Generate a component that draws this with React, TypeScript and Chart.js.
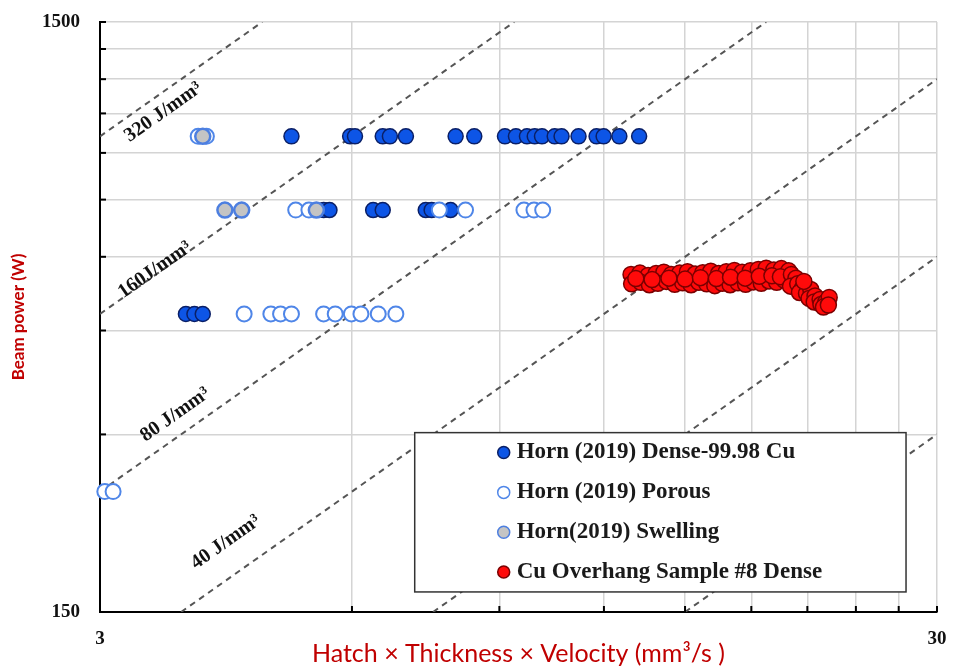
import React, { useEffect, useRef } from "react";
import { Chart, registerables } from "chart.js";

Chart.register(...registerables);

// Axis tick values (log axes with 3-step minor lines)
const xTickValues = [3, 6, 9, 12, 15, 18, 21, 24, 27, 30];
const yTickValues = [150, 300, 450, 600, 750, 900, 1050, 1200, 1350, 1500];
const xLabelled = [3, 30];
const yLabelled = [150, 1500];

// Constant energy-density lines (J/mm³): P = E · (h·t·v)
const energyLevels = [320, 160, 80, 40, 20, 10];
const energyLabels = ["320 J/mm³", "160J/mm³", "80 J/mm³", "40 J/mm³"];
const energyLabelX = [3.57, 3.49, 3.69, 4.24];
const energyLabelP = [1055, 570, 324, 197];

// Horn (2019) – dense builds, 99.98 % Cu
const denseX = [
  5.08, 5.97, 6.05, 6.53, 6.66, 6.96, 7.98, 8.4, 9.14, 9.42, 9.71, 9.92, 10.12, 10.48, 10.68, 11.19, 11.76, 11.99, 12.52, 13.22,
  5.55, 5.64, 6.36, 6.53, 7.35, 7.47, 7.87,
  3.8, 3.89, 3.98,
];
const denseP = [
  960, 960, 960, 960, 960, 960, 960, 960, 960, 960, 960, 960, 960, 960, 960, 960, 960, 960, 960, 960,
  720, 720, 720, 720, 720, 720, 720,
  480, 480, 480,
];

// Horn (2019) – porous builds
const porousX = [
  3.93, 4.02,
  5.14, 5.33, 7.63, 8.2, 9.63, 9.9, 10.14,
  4.46, 4.8, 4.93, 5.08, 5.55, 5.73, 5.99, 6.15, 6.45, 6.77,
  3.04, 3.11,
];
const porousP = [
  960, 960,
  720, 720, 720, 720, 720, 720, 720,
  480, 480, 480, 480, 480, 480, 480, 480, 480, 480,
  240, 240,
];

// Horn (2019) – swelling
const swellX = [3.98, 4.23, 4.43, 5.44];
const swellP = [960, 720, 720, 720];

// Cu overhang sample #8 – dense
const overhangX = [
  12.93, 13.25, 13.55, 13.85, 14.15, 14.45, 14.78, 15.1, 15.42, 15.75, 16.1, 16.45, 16.8, 17.18, 17.55, 17.95, 18.35, 18.75, 19.15, 19.55, 19.95,
  12.95, 13.28, 13.6, 13.92, 14.25, 14.58, 14.9, 15.25, 15.58, 15.92, 16.28, 16.62, 16.98, 17.35, 17.72, 18.1, 18.5, 18.9, 19.3, 19.7,
  13.1, 13.7, 14.35, 15.0, 15.65, 16.35, 17.0, 17.7, 18.4, 19.05, 19.5,
  20.1, 20.35, 20.05, 20.45, 20.7, 20.55, 20.95, 21.2, 21.1, 21.45, 21.4, 21.75, 21.8, 22.1, 22.3, 21.95, 22.25, 20.8,
];
const overhangP = [
  560, 563, 558, 562, 565, 560, 563, 566, 561, 564, 567, 562, 566, 569, 565, 568, 571, 574, 570, 573, 568,
  540, 543, 538, 541, 545, 539, 542, 538, 543, 540, 536, 541, 538, 542, 539, 544, 541, 546, 543, 548,
  551, 549, 552, 550, 553, 551, 554, 552, 556, 557, 555,
  560, 552, 535, 540, 530, 522, 520, 528, 510, 515, 503, 508, 498, 503, 512, 493, 497, 545,
];

const seriesLabels = [
  "Horn (2019) Dense-99.98 Cu",
  "Horn (2019) Porous",
  "Horn(2019) Swelling",
  "Cu Overhang Sample #8 Dense",
];

const zip = (xs: number[], ys: number[]) => xs.map((x, i) => ({ x, y: ys[i] }));

const SERIF = "'Liberation Serif', 'Times New Roman', serif";
const TITLE_FONT = "Lato, 'Open Sans', sans-serif";
const TITLE_RED = "#c00000";

// Inside tick marks, energy-line captions and the boxed legend
const overlayPlugin = {
  id: "overlay",
  afterDatasetsDraw(chart: any) {
    const { ctx, chartArea, scales } = chart;
    const xs = scales.x;
    const ys = scales.y;
    ctx.save();
    // short inward ticks
    ctx.strokeStyle = "#000";
    ctx.lineWidth = 2;
    xTickValues.forEach((v) => {
      if (v === xTickValues[0]) return;
      const px = xs.getPixelForValue(v);
      ctx.beginPath();
      ctx.moveTo(px, chartArea.bottom);
      ctx.lineTo(px, chartArea.bottom - 6);
      ctx.stroke();
    });
    yTickValues.forEach((v) => {
      if (v === yTickValues[0]) return;
      const py = ys.getPixelForValue(v);
      ctx.beginPath();
      ctx.moveTo(chartArea.left, py);
      ctx.lineTo(chartArea.left + 6, py);
      ctx.stroke();
    });

    // captions along the energy lines
    ctx.fillStyle = "#111";
    ctx.font = `bold 20px ${SERIF}`;
    ctx.textAlign = "center";
    ctx.textBaseline = "middle";
    energyLabels.forEach((txt, i) => {
      const E = energyLevels[i];
      const ax = xs.getPixelForValue(3);
      const ay = ys.getPixelForValue(3 * E);
      const bx = xs.getPixelForValue(6);
      const by = ys.getPixelForValue(6 * E);
      const ang = Math.atan2(by - ay, bx - ax);
      const cx = xs.getPixelForValue(energyLabelX[i]);
      const cy = ys.getPixelForValue(energyLabelP[i]);
      ctx.save();
      ctx.translate(cx, cy);
      ctx.rotate(ang);
      ctx.fillText(txt, 0, 0);
      ctx.restore();
    });
    ctx.restore();
  },
  afterDraw(chart: any) {
    const { ctx, chartArea } = chart;
    const w = chartArea.right - chartArea.left;
    const h = chartArea.bottom - chartArea.top;
    const left = chartArea.left + w * 0.376;
    const right = chartArea.left + w * 0.963;
    const top = chartArea.top + h * 0.696;
    const bottom = chartArea.top + h * 0.966;
    ctx.save();
    ctx.fillStyle = "#fff";
    ctx.fillRect(left, top, right - left, bottom - top);
    ctx.strokeStyle = "#333";
    ctx.lineWidth = 1.5;
    ctx.strokeRect(left, top, right - left, bottom - top);
    const items = chart.data.datasets.filter((d: any) => d.inLegend);
    const rowH = (bottom - top) / items.length;
    ctx.font = `bold 23px ${SERIF}`;
    ctx.textAlign = "left";
    ctx.textBaseline = "middle";
    items.forEach((d: any, i: number) => {
      const cy = top + rowH * (i + 0.5);
      const mx = left + 89;
      ctx.beginPath();
      ctx.arc(mx, cy, 6, 0, Math.PI * 2);
      ctx.fillStyle = d.backgroundColor;
      ctx.fill();
      ctx.lineWidth = 1.5;
      ctx.strokeStyle = d.borderColor;
      ctx.stroke();
      ctx.fillStyle = "#1a1a1a";
      ctx.fillText(d.label, mx + 13, cy);
    });
    ctx.restore();
  },
};

export default function App() {
  const canvasRef = useRef<HTMLCanvasElement>(null);

  useEffect(() => {
    if (!canvasRef.current) return;

    const energyLines = energyLevels.map((E) => {
      const x0 = Math.max(3, 150 / E);
      const x1 = Math.min(30, 1500 / E);
      return {
        type: "line" as const,
        label: `${E} J/mm³`,
        data: [
          { x: x0, y: E * x0 },
          { x: x1, y: E * x1 },
        ],
        showLine: true,
        borderColor: "#555",
        borderWidth: 2,
        borderDash: [6, 5],
        pointRadius: 0,
        fill: false,
        order: 10,
        inLegend: false,
      };
    });

    const chart = new Chart(canvasRef.current, {
      type: "scatter",
      data: {
        datasets: [
          {
            label: seriesLabels[0],
            data: zip(denseX, denseP),
            backgroundColor: "#0d55e6",
            borderColor: "#0a1f66",
            borderWidth: 1.5,
            pointRadius: 7.5,
            order: 3,
            clip: false,
            inLegend: true,
          },
          {
            label: seriesLabels[1],
            data: zip(porousX, porousP),
            backgroundColor: "#ffffff",
            borderColor: "#4f86e8",
            borderWidth: 2,
            pointRadius: 7.5,
            order: 2,
            clip: false,
            inLegend: true,
          },
          {
            label: seriesLabels[2],
            data: zip(swellX, swellP),
            backgroundColor: "#c4c4c4",
            borderColor: "#4d7fe0",
            borderWidth: 2.5,
            pointRadius: 7.5,
            order: 1,
            clip: false,
            inLegend: true,
          },
          {
            label: seriesLabels[3],
            data: zip(overhangX, overhangP),
            backgroundColor: "#ff0a0a",
            borderColor: "#7a0000",
            borderWidth: 1.5,
            pointRadius: 8,
            order: 0,
            clip: false,
            inLegend: true,
          },
          ...energyLines,
        ] as any,
      },
      options: {
        animation: false,
        responsive: false,
        maintainAspectRatio: false,
        layout: { padding: { left: 0, right: 25, top: 22, bottom: 0 } },
        plugins: {
          legend: { display: false },
          tooltip: { enabled: false },
        },
        scales: {
          x: {
            type: "logarithmic",
            min: 3,
            max: 30,
            afterBuildTicks: (s: any) => {
              s.ticks = xTickValues.map((v) => ({ value: v }));
            },
            afterFit: (s: any) => {
              s.height = 54;
              s.paddingLeft = 0;
              s.paddingRight = 0;
            },
            ticks: {
              autoSkip: false,
              maxRotation: 0,
              padding: 16,
              color: "#111",
              font: { family: SERIF, size: 19, weight: "bold" },
              callback: (v: any) => (xLabelled.includes(Number(v)) ? String(v) : ""),
            },
            grid: { color: "#d4d4d4", lineWidth: 1.5, drawTicks: false },
            border: { color: "#000", width: 2 },
            title: {
              display: true,
              text: "Hatch × Thickness × Velocity (mm³/s )",
              color: TITLE_RED,
              font: { family: TITLE_FONT, size: 25, lineHeight: 1.0 },
              padding: { top: 0, bottom: 0 },
            },
          },
          y: {
            type: "logarithmic",
            min: 150,
            max: 1500,
            afterBuildTicks: (s: any) => {
              s.ticks = yTickValues.map((v) => ({ value: v }));
            },
            afterFit: (s: any) => {
              s.width = 100;
              s.paddingTop = 0;
              s.paddingBottom = 0;
            },
            ticks: {
              autoSkip: false,
              padding: 20,
              color: "#111",
              font: { family: SERIF, size: 19, weight: "bold" },
              callback: (v: any) => (yLabelled.includes(Number(v)) ? String(v) : ""),
            },
            grid: { color: "#d4d4d4", lineWidth: 1.5, drawTicks: false },
            border: { color: "#000", width: 2 },
            title: {
              display: true,
              text: "Beam power (W)",
              color: TITLE_RED,
              font: { family: TITLE_FONT, size: 17, weight: "bold" },
              padding: { top: 8, bottom: 0 },
            },
          },
        },
      },
      plugins: [overlayPlugin],
    });

    return () => chart.destroy();
  }, []);

  return (
    <div
      style={{
        position: "fixed",
        left: 0,
        top: 0,
        width: 962,
        height: 666,
        background: "#fff",
      }}
    >
      <canvas ref={canvasRef} width={962} height={666} style={{ width: 962, height: 666 }} />
    </div>
  );
}
